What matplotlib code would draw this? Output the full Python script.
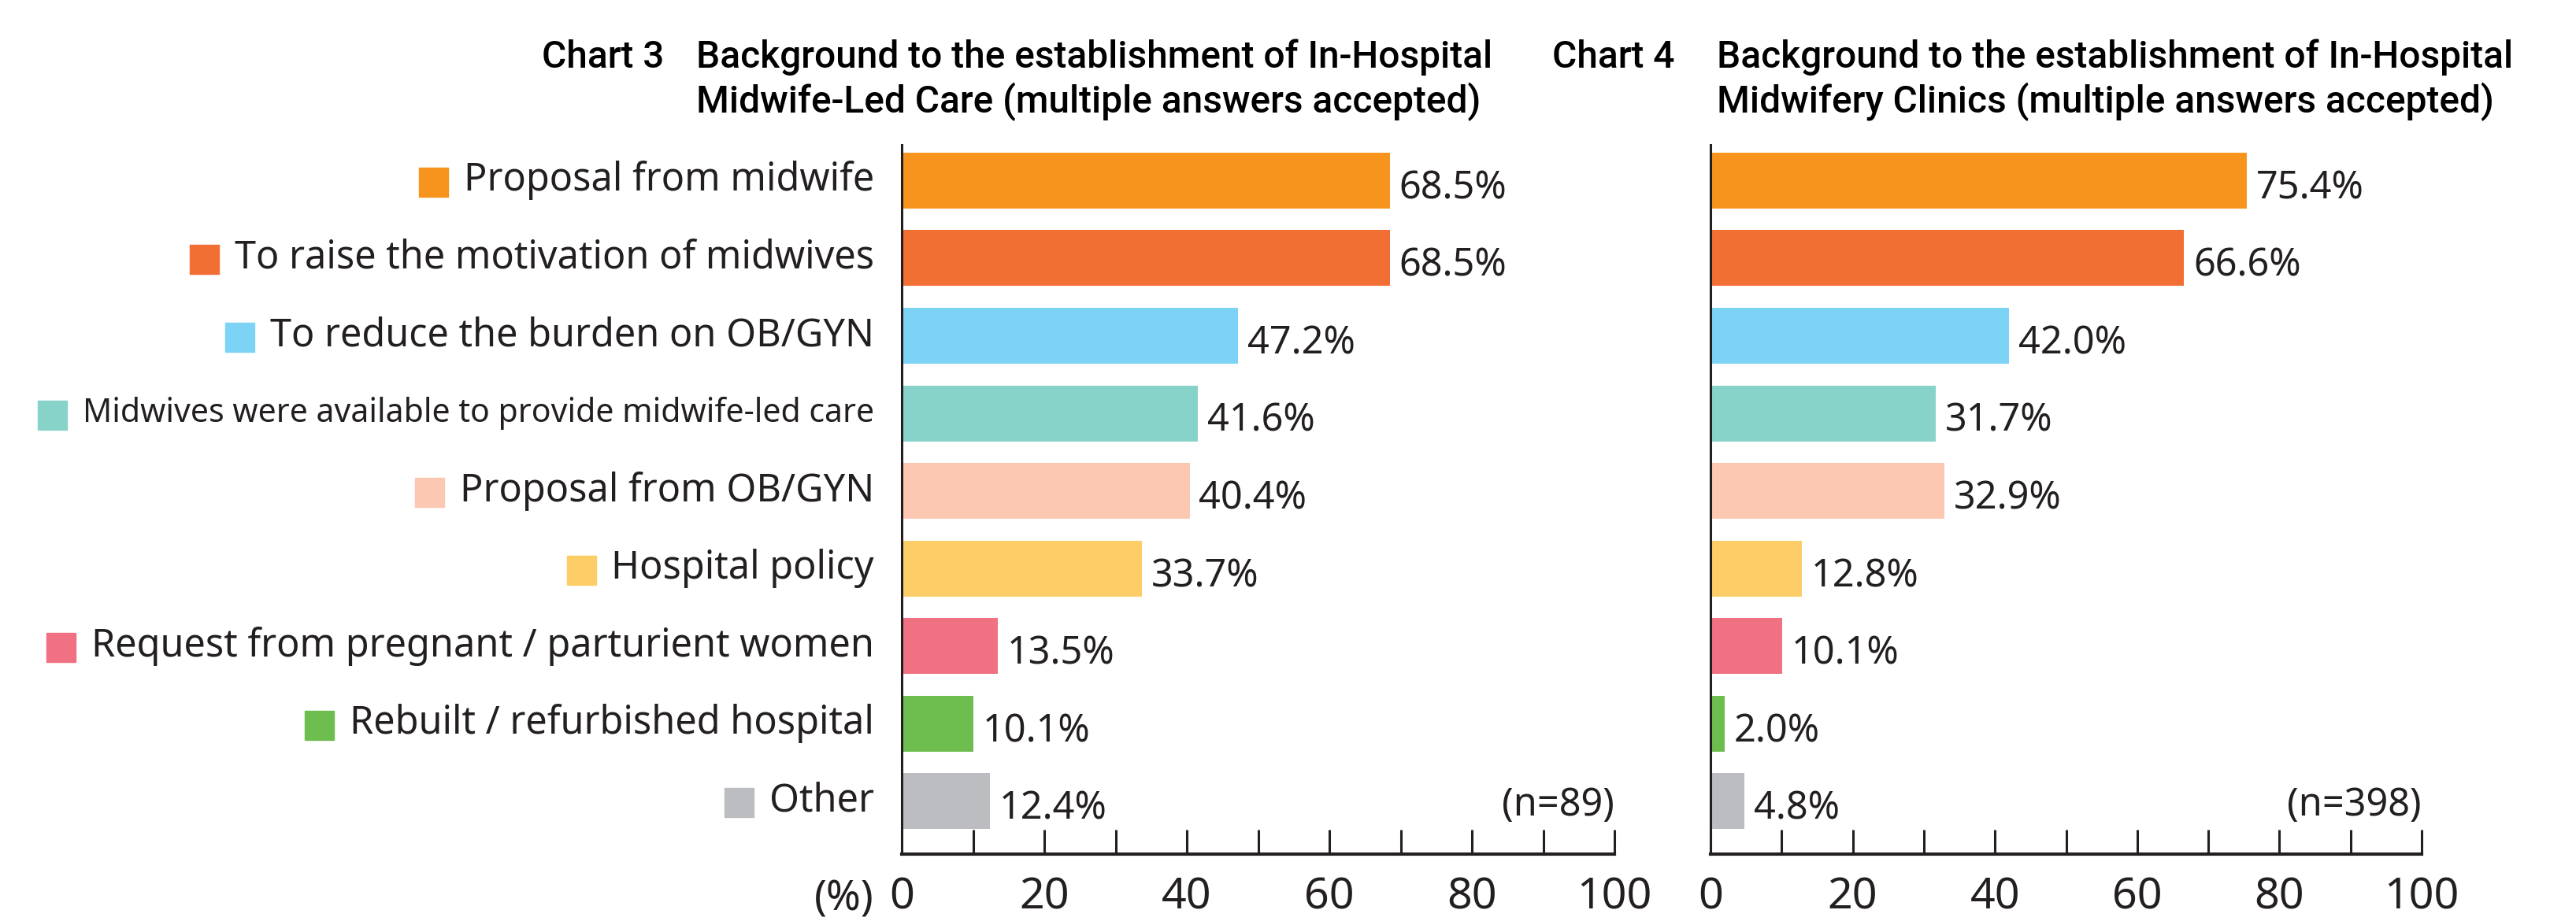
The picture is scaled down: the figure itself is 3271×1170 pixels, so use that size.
import matplotlib
matplotlib.use("Agg")
import matplotlib.pyplot as plt
from matplotlib.patches import Rectangle

plt.rcParams['font.family'] = ['Noto Sans', 'DejaVu Sans']

categories = [
    "Proposal from midwife",
    "To raise the motivation of midwives",
    "To reduce the burden on OB/GYN",
    "Midwives were available to provide midwife-led care",
    "Proposal from OB/GYN",
    "Hospital policy",
    "Request from pregnant / parturient women",
    "Rebuilt / refurbished hospital",
    "Other",
]
chart3_values = [68.5, 68.5, 47.2, 41.6, 40.4, 33.7, 13.5, 10.1, 12.4]
chart4_values = [75.4, 66.6, 42.0, 31.7, 32.9, 12.8, 10.1, 2.0, 4.8]
colors = ["#F7941D", "#F26F33", "#7DD3F5", "#88D3C9", "#FCC8B2",
          "#FDCD67", "#EF7182", "#6DBE4F", "#BCBDC0"]
chart3_title = ["Background to the establishment of In-Hospital",
                "Midwife-Led Care (multiple answers accepted)"]
chart4_title = ["Background to the establishment of In-Hospital",
                "Midwifery Clinics (multiple answers accepted)"]
n_labels = ["(n=89)", "(n=398)"]
tick_labels = ["0", "20", "40", "60", "80", "100"]

W, H = 3271, 1170
fig = plt.figure(figsize=(W / 100, H / 100), dpi=100)

ax1 = fig.add_axes([1145 / W, 85 / H, 905 / W, 901 / H])
ax2 = fig.add_axes([2172 / W, 85 / H, 903 / W, 901 / H])

ypos = list(range(len(categories)))
TXT = '#231F20'
LW = 'normal'

def style(ax, values, nlab):
    ax.barh(ypos, values, height=0.72, color=colors, edgecolor='none')
    ax.set_xlim(0, 100)
    ax.set_ylim(len(categories) - 1 + 0.68, -0.46)
    for s in ['top', 'right']:
        ax.spines[s].set_visible(False)
    ax.spines['left'].set_linewidth(2.2)
    ax.spines['bottom'].set_linewidth(3)
    ax.spines['left'].set_color(TXT)
    ax.spines['bottom'].set_color(TXT)
    ax.set_yticks([])
    ax.set_xticks(range(0, 101, 10))
    ax.set_xticklabels([tick_labels[i // 2] if i % 2 == 0 else "" for i in range(11)])
    ax.tick_params(axis='x', direction='in', length=22, width=2.2, color=TXT,
                   labelsize=40, pad=20, labelcolor=TXT)
    for y, v in zip(ypos, values):
        ax.text(v + 1.3, y + 0.1, f"{v:.1f}%", va='center', ha='left',
                fontsize=35, color=TXT, fontweight=LW)
    ax.text(100, len(categories) - 1 + 0.05, nlab, ha='right', va='center',
            fontsize=35, color=TXT, fontweight=LW)

style(ax1, chart3_values, n_labels[0])
style(ax2, chart4_values, n_labels[1])

# "(%)" label
fig.text(1110 / W, 1 - 1143 / H, "(%)", ha='right', va='center', fontsize=38,
         color=TXT, fontweight=LW)

# category labels with colored squares
fig.canvas.draw()
renderer = fig.canvas.get_renderer()
for y, (cat, c) in enumerate(zip(categories, colors)):
    size = 35
    if cat.startswith("Midwives were"):
        size = 29.5
    t = ax1.annotate(cat, xy=(0, y), xycoords=('axes fraction', 'data'),
                     xytext=(-35 * 0.72, 0), textcoords='offset points',
                     ha='right', va='center', fontsize=size, color=TXT,
                     fontweight=LW)
    fig.canvas.draw()
    bb = t.get_window_extent(renderer)
    sq = 37
    x0 = bb.x0 - 20 - sq
    yc = (bb.y0 + bb.y1) / 2 - 2
    fig.patches.append(Rectangle((x0 / W, (yc - sq / 2) / H), sq / W, sq / H,
                                 transform=fig.transFigure, color=c, figure=fig))

# titles
tfont = dict(fontsize=34.5, color='#000000', family=['Roboto', 'DejaVu Sans'],
             fontweight='medium')
for (cx, tx, lines, label) in [(688, 884, chart3_title, "Chart 3"),
                               (1971, 2180, chart4_title, "Chart 4")]:
    fig.text(cx / W, 1 - 73 / H, label, ha='left', va='center', **tfont)
    fig.text(tx / W, 1 - 73 / H, lines[0], ha='left', va='center', **tfont)
    fig.text(tx / W, 1 - 129 / H, lines[1], ha='left', va='center', **tfont)

fig.savefig("out.png", dpi=100)
